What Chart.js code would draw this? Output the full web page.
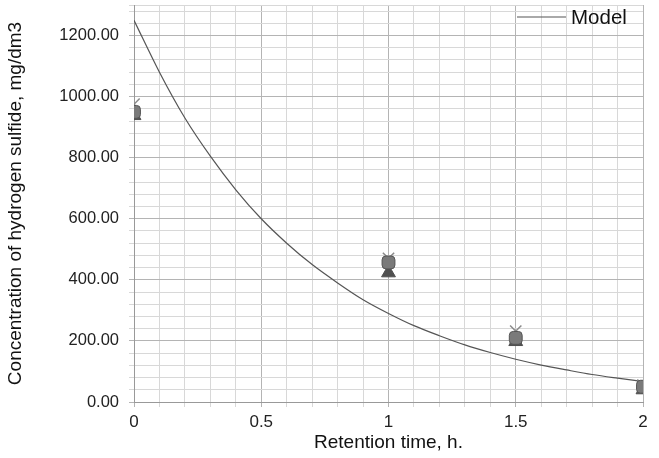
<!DOCTYPE html>
<html>
<head>
<meta charset="utf-8">
<script src="https://cdn.jsdelivr.net/npm/chart.js@4"></script>
<style>
  html, body { margin: 0; padding: 0; background: #fff; }
  #wrap { width: 659px; height: 458px; }
</style>
</head>
<body>
<div id="wrap"><canvas id="chart"></canvas></div>
<script>
// ===== DATA =====
const modelX = [0, 0.1, 0.2, 0.3, 0.4, 0.5, 0.6, 0.7, 0.8, 0.9, 1.0, 1.1, 1.2, 1.3, 1.4, 1.5, 1.6, 1.7, 1.8, 1.9, 2.0];
const modelY = [1250, 1080, 930, 805, 695, 600, 520, 450, 390, 335, 290, 250, 217, 187, 162, 140, 121, 105, 90, 78, 67];
const measX = [0, 1, 1.5, 2];
const measCross = [975, 470, 232, 55];
const measSquare = [950, 457, 210, 50];
const measTriangle = [938, 423, 198, 40];
const yTicks = [0, 200, 400, 600, 800, 1000, 1200];
const xTicks = [0, 0.5, 1, 1.5, 2];

const FONT = 'Liberation Sans, Arial, sans-serif';
const pts = (xs, ys) => xs.map((x, i) => ({ x, y: ys[i] }));
const isMajor = (v, step) => Math.abs(v / step - Math.round(v / step)) < 1e-6;

// legend drawn top-right inside the plot, only the model line
const modelLegend = {
  id: 'modelLegend',
  afterDraw(chart) {
    const { ctx, chartArea } = chart;
    const ds = chart.data.datasets[0];
    const y = 17;
    const x1 = chartArea.right - 126, x2 = chartArea.right - 77;
    ctx.save();
    ctx.strokeStyle = ds.borderColor;
    ctx.lineWidth = 1.2;
    ctx.beginPath(); ctx.moveTo(x1, y); ctx.lineTo(x2, y); ctx.stroke();
    ctx.fillStyle = '#111';
    ctx.font = '20.5px ' + FONT;
    ctx.textBaseline = 'middle';
    ctx.fillText(ds.label, x2 + 5, y + 1);
    ctx.restore();
  }
};

new Chart(document.getElementById('chart'), {
  type: 'scatter',
  data: {
    datasets: [
      { label: 'Model', type: 'line', data: pts(modelX, modelY), borderColor: '#555', backgroundColor: '#555',
        borderWidth: 1.2, pointRadius: 0, tension: 0.4, cubicInterpolationMode: 'monotone', order: 4 },
      { label: 'cross', data: pts(measX, measCross), pointStyle: 'crossRot', pointRadius: 8,
        borderColor: '#8a8a8a', borderWidth: 1.5, order: 3 },
      { label: 'triangle', data: pts(measX, measTriangle), pointStyle: 'triangle', pointRadius: 8,
        backgroundColor: '#4f4f4f', borderColor: '#4f4f4f', borderWidth: 1, order: 2 },
      { label: 'square', data: pts(measX, measSquare), pointStyle: 'rectRounded', pointRadius: 7.5,
        backgroundColor: '#7a7a7a', borderColor: '#555', borderWidth: 1, order: 1 }
    ]
  },
  options: {
    animation: false,
    responsive: true,
    maintainAspectRatio: false,
    layout: { autoPadding: false, padding: { top: 5, right: 16, left: 0, bottom: 0 } },
    plugins: {
      legend: { display: false },
      tooltip: { enabled: false }
    },
    scales: {
      x: {
        type: 'linear', min: 0, max: 2,
        afterFit: s => { s.height = 56; s.paddingLeft = 0; s.paddingRight = 0; },
        afterBuildTicks: s => { s.ticks = []; for (let i = 0; i <= 20; i++) s.ticks.push({ value: i / 10 }); },
        ticks: {
          color: '#222', font: { family: FONT, size: 17 }, padding: 5, maxRotation: 0, autoSkip: false,
          callback: v => xTicks.some(t => Math.abs(t - v) < 1e-6) ? String(+v.toFixed(1)) : ''
        },
        grid: {
          color: c => isMajor(c.tick.value, 0.5) ? '#b4b4b4' : '#d8d8d8',
          lineWidth: 1, tickLength: 5, drawTicks: true
        },
        border: { color: '#999' },
        title: { display: true, text: 'Retention time, h.', color: '#111', font: { family: FONT, size: 19 }, padding: { top: 0 } }
      },
      y: {
        type: 'linear', min: 0, max: 1300,
        afterFit: s => { s.width = 134; s.paddingTop = 0; s.paddingBottom = 0; },
        afterBuildTicks: s => { s.ticks = []; for (let v = 0; v <= 1280; v += 40) s.ticks.push({ value: v }); s.ticks.push({ value: 1300 }); },
        ticks: {
          color: '#222', font: { family: FONT, size: 16.5 }, padding: 10, autoSkip: false,
          callback: v => yTicks.includes(v) ? v.toFixed(2) : ''
        },
        grid: {
          color: c => isMajor(c.tick.value, 200) ? '#b4b4b4' : '#d8d8d8',
          lineWidth: 1, tickLength: 5
        },
        border: { color: '#999' },
        title: { display: true, text: 'Concentration of hydrogen sulfide, mg/dm3', color: '#111', font: { family: FONT, size: 19 }, padding: { bottom: 6 } }
      }
    }
  },
  plugins: [modelLegend]
});
</script>
</body>
</html>
